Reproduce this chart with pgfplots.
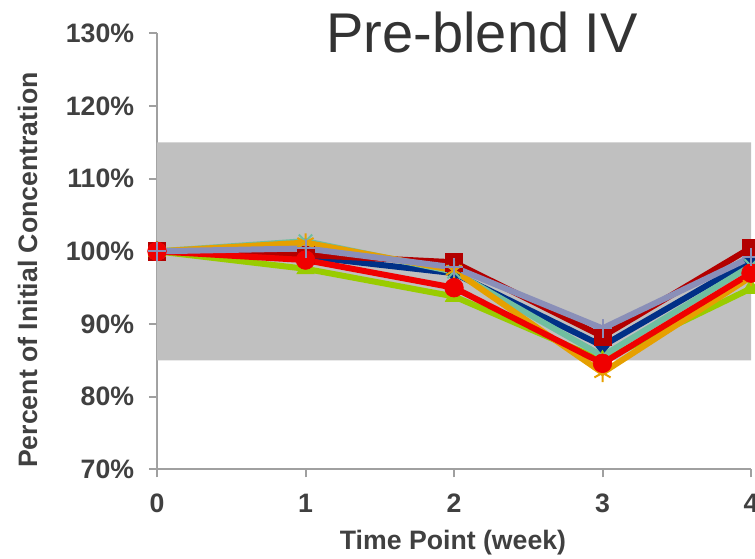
\documentclass[border=0pt]{standalone}
\usepackage{pgfplots}
\pgfplotsset{compat=1.18}
\usepackage{fontspec}
\setmainfont{Liberation Sans}
\definecolor{cnavy}{RGB}{0,48,135}
\definecolor{cdred}{RGB}{179,0,0}
\definecolor{clime}{RGB}{153,204,0}
\definecolor{cteal}{RGB}{112,190,160}
\definecolor{corange}{RGB}{230,160,0}
\definecolor{cred}{RGB}{240,0,0}
\definecolor{clav}{RGB}{138,143,184}
\definecolor{band}{RGB}{192,192,192}
\definecolor{axgray}{RGB}{160,160,160}
\definecolor{txt}{RGB}{64,64,64}
\begin{document}
\begin{tikzpicture}
\begin{axis}[
  at={(0pt,0pt)}, anchor=south west,
  scale only axis, width=445.5pt, height=327.2pt,
  xmin=0, xmax=4, ymin=70, ymax=130,
  clip=false,
  axis lines*=left,
  axis line style={draw=axgray, line width=1.5pt},
  xtick={0,1,2,3,4}, ytick={70,80,90,100,110,120,130},
  tick align=outside, major tick length=6pt,
  tick style={draw=axgray, line width=1.5pt},
  yticklabel={\pgfmathprintnumber{\tick}\%},
  /pgf/number format/assume math mode=true,
  ticklabel style={font=\fontsize{20}{24}\selectfont\bfseries, text=txt},
  yticklabel style={anchor=east, inner sep=0pt, xshift=-11pt},
  xticklabel style={anchor=base, inner sep=0pt, yshift=-26.5pt},
  xlabel={Time Point (week)},
  ylabel={Percent of Initial Concentration},
  label style={font=\fontsize{20}{24}\selectfont\bfseries, text=txt},
  xlabel style={at={(axis description cs:0.4983,-0.183)}, anchor=base, inner sep=0pt},
  ylabel style={at={(axis description cs:-0.218,0.457)}, anchor=center, inner sep=0pt, rotate=0},
  every axis plot/.append style={line width=4.5pt},
]
\addplot[draw=none, fill=band, line width=0pt] coordinates {(0,85) (4,85) (4,115) (0,115)} \closedcycle;
% 1 navy diamond
\addplot[color=cnavy, mark=diamond*, mark size=7pt, mark options={solid, line width=0.5pt}] coordinates {(0,100) (1,99.3) (2,97.0) (3,87.0) (4,98.8)};
% 2 dark red square
\addplot[color=cdred, mark=square*, mark size=6.5pt, mark options={solid, line width=0.5pt}] coordinates {(0,100) (1,99.5) (2,98.5) (3,88.3) (4,100.5)};
% 3 lime triangle
\addplot[color=clime, mark=triangle*, mark size=7.5pt, mark options={solid, line width=0.5pt}] coordinates {(0,100) (1,97.6) (2,93.8) (3,85.0) (4,94.9)};
% 4 teal x
\addplot[color=cteal, mark=x, mark size=7pt, mark options={solid, line width=1.5pt}] coordinates {(0,100) (1,101.4) (2,97.2) (3,85.6) (4,98.0)};
% 5 orange star
\addplot[color=corange, mark=asterisk, mark size=7pt, mark options={solid, line width=1.5pt}] coordinates {(0,100) (1,101.2) (2,97.4) (3,83.3) (4,96.5)};
% 6 red circle
\addplot[color=cred, mark=*, mark size=7pt, mark options={solid, line width=0.5pt}] coordinates {(0,100) (1,98.8) (2,95.0) (3,84.6) (4,97.0)};
% 7 lavender plus
\addplot[color=clav, mark=+, mark size=7pt, mark options={solid, line width=1.5pt}] coordinates {(0,100) (1,100.4) (2,97.8) (3,89.4) (4,99.2)};
\node[anchor=base, inner sep=0pt, text=txt!80!black, font=\fontsize{42}{48}\selectfont] at (axis cs:2.19,127.29) {Pre-blend IV};
\end{axis}
\pgfresetboundingbox
\useasboundingbox (-117.75pt,-66.4pt) rectangle (448.5pt,352.1pt);
\end{tikzpicture}
\end{document}
